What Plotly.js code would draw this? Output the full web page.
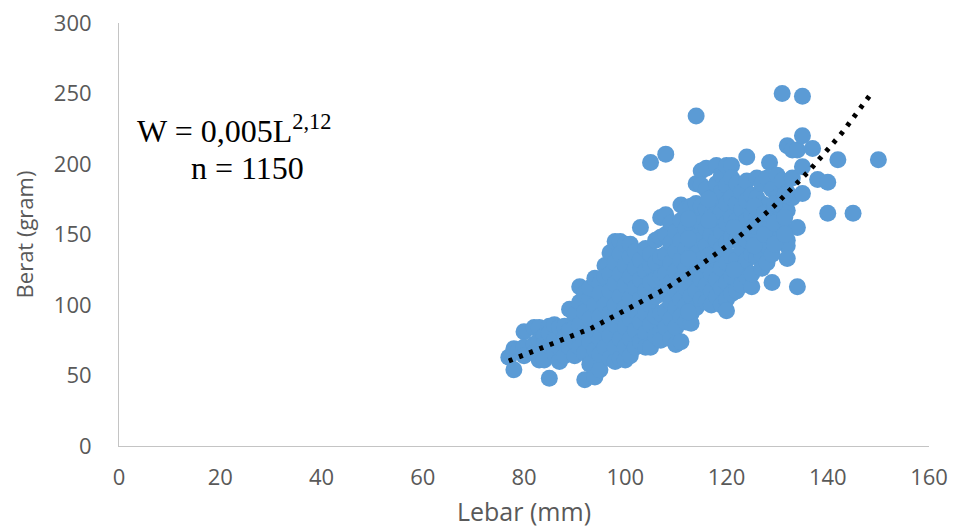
<!DOCTYPE html>
<html><head><meta charset="utf-8">
<script src="https://cdn.plot.ly/plotly-3.0.1.min.js"></script>
<style>html,body{margin:0;padding:0;background:#fff}</style></head>
<body><div id="chart" style="width:954px;height:528px"></div>
<script>
const lebarKolom = [77,78,79,80,82,83,84,85,86,87,88,89,90,91,92,93,94,95,96,97,98,99,100,101,102,103,104,105,106,107,108,109,110,111,112,113,114,115,116,117,118,119,120,121,122,123,124,125,126,127,128,128.5,129,130,131,132,133,134,135,137,138,140,142,145,150,121.5,125.5,127.5,129.5,131.5,112.5,116.5];
const beratKolom = [
[63],[54,69],[68],[81,70,64],[72,84,66],[84,75,61],[61,78,72],[48,85,80],[86,75,66],[60,84,70],
[85,64,77],[97,70,82],[93,64,74,84],[113,102,70,86],[47,80,108,95,66],[58,105,90,74,112],
[49,119,100,68,82],[54,115,92,76,108,65],[128,120,85,70,100],[137,122,110,94,78,62],
[60,145,130,115,100,86,70],[145,136,122,106,92,76,62],[61,143,128,114,98,84,70],[143,134,120,105,90,76,64],
[138,126,112,96,82,70],[155,132,118,104,88,74],[140,124,110,94,80,70],[201,128,136,116,100,86,70],
[146,130,118,106,92,78],[162,148,134,120,108,94,80,75],[207,164,150,136,122,110,96,84],[158,144,130,116,102,90,76],
[152,138,124,110,98,84,72],[171,160,146,132,118,104,92,74],[168,154,140,126,112,100,88],[170,158,146,132,120,106,94,87],
[234,186,172,160,148,136,122,110,98],[195,185,170,158,146,132,118,104],[197,182,168,154,142,128,114,102],[176,162,150,136,122,110,100],
[199,186,172,158,146,132,118,106],[192,180,166,152,140,126,112,100],[199,185,172,158,144,130,116,104,96],[199,190,176,162,148,134,120,108],
[186,172,160,146,132,118,110],[180,168,154,140,126,114],[205,188,174,160,146,132,120],[178,164,150,136,113,122],
[190,176,162,148,134],[186,172,158,144,126,136],[190,170,156,142,130],[201],[182,166,150,136,116],
[192,176,160,146],[250,188,170,156],[213,180,167,146,142,133],[210,190,176],[210,155,113],[248,220,198,179],
[211],[189],[187,165],[203],[165],[203],
[155,125],[170,156,142],[165,150],[172,143,158],[178,162,150],[133,147,161,95],[175,160,135]];
const trendLebar = [77,93.4,108.2,112.4,120.1,122,129.4,136.3,142.8,148.7];
const trendBerat = [60.3,83.7,112,122,142,147,170.2,195,222,250.5];

const lebar = [], berat = [];
lebarKolom.forEach((x,i)=>beratKolom[i].forEach(y=>{lebar.push(x);berat.push(y);}));

const grey='#595959', lineGrey='#c4c4c4', tickFont={family:'Open Sans, sans-serif',size:22,color:grey};
const traces=[
 {x:lebar,y:berat,type:'scatter',mode:'markers',marker:{color:'#5b9bd5',size:17,line:{width:0}},hoverinfo:'skip'},
 {x:trendLebar,y:trendBerat,type:'scatter',mode:'lines',line:{color:'#000',width:5,dash:'4px,7px'},hoverinfo:'skip'}
];
const layout={
 width:954,height:528,showlegend:false,paper_bgcolor:'#fff',plot_bgcolor:'#fff',
 margin:{l:119,r:25,t:23,b:82},
 xaxis:{range:[0,160],tick0:0,dtick:20,showgrid:false,zeroline:false,showline:true,linecolor:lineGrey,linewidth:1,
  ticks:'outside',ticklen:12,tickcolor:'rgba(0,0,0,0)',tickfont:tickFont,
  title:{text:'Lebar (mm)',font:{family:'Open Sans, sans-serif',size:25,color:grey},standoff:15},automargin:false},
 yaxis:{range:[0,300],tick0:0,dtick:50,showgrid:false,zeroline:false,showline:true,linecolor:lineGrey,linewidth:1,
  ticks:'outside',ticklen:22,tickcolor:'rgba(0,0,0,0)',tickfont:tickFont,
  title:{text:'Berat (gram)',font:{family:'Open Sans, sans-serif',size:22,color:grey},standoff:14},automargin:false},
 annotations:[
  {xref:'paper',yref:'paper',x:(135-119)/810,y:(446-129)/423,xanchor:'left',yanchor:'middle',showarrow:false,
   text:'W = 0,005L<sup>2,12</sup>',font:{family:'Liberation Serif, serif',size:32,color:'#000'}},
  {xref:'paper',yref:'paper',x:(247-119)/810,y:(446-168)/423,xanchor:'center',yanchor:'middle',showarrow:false,
   text:'n = 1150',font:{family:'Liberation Serif, serif',size:32,color:'#000'}}
 ]
};
Plotly.newPlot('chart',traces,layout,{displayModeBar:false,staticPlot:true});
</script></body></html>
